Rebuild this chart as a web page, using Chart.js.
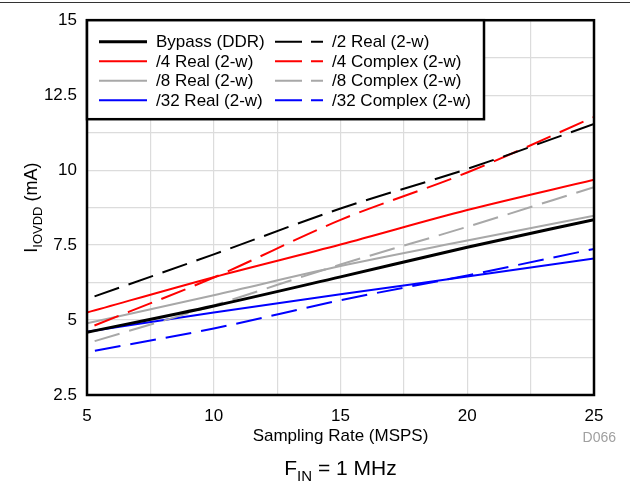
<!DOCTYPE html>
<html>
<head>
<meta charset="utf-8">
<script src="https://cdn.jsdelivr.net/npm/chart.js@4.4.1/dist/chart.umd.min.js"></script>
<style>
  html, body { margin: 0; padding: 0; background: #fff; }
  #wrap { position: relative; width: 630px; height: 482px; }
  canvas { display: block; }
</style>
</head>
<body>
<div id="wrap"><canvas id="c" width="630" height="482"></canvas></div>
<script>
// ---- Data ----
const samplingRate = [5, 10, 15, 20, 25];           // MSPS
const bypassDDR     = [4.59, 5.47, 6.44, 7.43, 8.35];
const div2Real      = [5.70, 7.19, 8.72, 10.04, 11.54];
const div4Real      = [5.25, 6.43, 7.52, 8.67, 9.68];
const div4Complex   = [4.72, 6.42, 8.34, 9.92, 11.77];
const div8Real      = [4.89, 5.83, 6.80, 7.65, 8.48];
const div8Complex   = [4.22, 5.49, 6.85, 8.11, 9.43];
const div32Real     = [4.61, 5.25, 5.86, 6.45, 7.05];
const div32Complex  = [3.93, 4.72, 5.66, 6.49, 7.37];
const seriesNames = ['Bypass (DDR)', '/2 Real (2-w)', '/4 Real (2-w)', '/4 Complex (2-w)',
                     '/8 Real (2-w)', '/8 Complex (2-w)', '/32 Real (2-w)', '/32 Complex (2-w)'];
const xTickLabels = ['5', '10', '15', '20', '25'];
const yTickLabels = ['2.5', '5', '7.5', '10', '12.5', '15'];
const xTitle = 'Sampling Rate (MSPS)';
const footNote = 'D066';

const FONT = '"Liberation Sans", Arial, sans-serif';
const RED = '#ff0000', BLUE = '#0000ff', GRAY = '#a8a8a8', BLACK = '#000000';
const DASH = [26, 10];

function pts(ys) { return samplingRate.map((x, i) => ({ x: x, y: ys[i] })); }
function ds(label, ys, color, dashed, width) {
  return {
    label: label, data: pts(ys), borderColor: color, backgroundColor: color,
    borderWidth: width, borderDash: dashed ? DASH : [], borderDashOffset: dashed ? 28 : 0,
    pointRadius: 0, tension: 0.3, fill: false, cubicInterpolationMode: 'monotone'
  };
}

const datasets = [
  ds(seriesNames[0], bypassDDR, BLACK, false, 3),
  ds(seriesNames[1], div2Real, BLACK, true, 2),
  ds(seriesNames[2], div4Real, RED, false, 2),
  ds(seriesNames[3], div4Complex, RED, true, 2),
  ds(seriesNames[4], div8Real, GRAY, false, 2),
  ds(seriesNames[5], div8Complex, GRAY, true, 2),
  ds(seriesNames[6], div32Real, BLUE, false, 2),
  ds(seriesNames[7], div32Complex, BLUE, true, 2)
];

function drawParts(ctx, parts, x, y, size, align) {
  let total = 0;
  const widths = parts.map(p => {
    ctx.font = (p.sub ? Math.round(size * 0.72) : size) + 'px ' + FONT;
    const w = ctx.measureText(p.t).width; total += w; return w;
  });
  let cx = align === 'center' ? x - total / 2 : x;
  parts.forEach((p, i) => {
    ctx.font = (p.sub ? Math.round(size * 0.72) : size) + 'px ' + FONT;
    ctx.textAlign = 'left';
    ctx.textBaseline = 'alphabetic';
    ctx.fillText(p.t, cx, y + (p.sub ? size * 0.28 : 0));
    cx += widths[i];
  });
}

const decor = {
  id: 'decor',
  beforeDraw(chart) {
    const ctx = chart.ctx;
    ctx.save();
    ctx.fillStyle = '#fff';
    ctx.fillRect(0, 0, chart.width, chart.height);
    ctx.strokeStyle = '#333';
    ctx.lineWidth = 1;
    ctx.beginPath(); ctx.moveTo(0, 2.5); ctx.lineTo(chart.width, 2.5); ctx.stroke();
    ctx.restore();
  },
  afterDraw(chart) {
    const ctx = chart.ctx;
    const a = chart.chartArea;
    ctx.save();
    ctx.strokeStyle = '#000';
    ctx.lineWidth = 2.5;
    ctx.strokeRect(a.left, a.top, a.right - a.left, a.bottom - a.top);

    // legend box
    const lx = a.left, ly = a.top, lw = 397, lh = 99;
    ctx.fillStyle = '#fff';
    ctx.fillRect(lx, ly, lw, lh);
    ctx.lineWidth = 2.5;
    ctx.strokeStyle = '#000';
    ctx.strokeRect(lx, ly, lw, lh);
    const colX = [lx + 12, lx + 188];
    const rowY = [ly + 21.5, ly + 41, ly + 60.5, ly + 80];
    chart.data.datasets.forEach((d, i) => {
      const col = i % 2, row = Math.floor(i / 2);
      const x0 = colX[col], y0 = rowY[row];
      ctx.beginPath();
      ctx.strokeStyle = d.borderColor;
      ctx.lineWidth = d.borderWidth;
      ctx.setLineDash(d.borderDash.length ? [27, 9] : []);
      ctx.moveTo(x0, y0); ctx.lineTo(x0 + 48, y0);
      ctx.stroke();
      ctx.setLineDash([]);
      ctx.fillStyle = '#000';
      ctx.font = '17px ' + FONT;
      ctx.textAlign = 'left';
      ctx.textBaseline = 'middle';
      ctx.fillText(d.label, x0 + 57, y0 + 1);
    });

    ctx.fillStyle = '#000';
    ctx.font = '17px ' + FONT;
    ctx.textAlign = 'center';
    ctx.textBaseline = 'middle';
    ctx.fillText(xTitle, (a.left + a.right) / 2, 436);
    ctx.fillStyle = '#a0a0a0';
    ctx.font = '14px ' + FONT;
    ctx.textAlign = 'right';
    ctx.fillText(footNote, 616, 438);
    ctx.fillStyle = '#000';
    drawParts(ctx, [{ t: 'F' }, { t: 'IN', sub: true }, { t: ' = 1 MHz' }], (a.left + a.right) / 2, 475, 21, 'center');
    ctx.save();
    ctx.translate(37, (a.top + a.bottom) / 2);
    ctx.rotate(-Math.PI / 2);
    drawParts(ctx, [{ t: 'I' }, { t: 'IOVDD', sub: true }, { t: ' (mA)' }], 0, 0, 18, 'center');
    ctx.restore();
    ctx.restore();
  }
};

function gridColor(ctx) { return '#dcdcdc'; }

new Chart(document.getElementById('c'), {
  type: 'line',
  data: { datasets: datasets },
  plugins: [decor],
  options: {
    responsive: false,
    animation: false,
    devicePixelRatio: 1,
    layout: { padding: { left: 0, top: 18, right: 36, bottom: 0 } },
    plugins: { legend: { display: false }, tooltip: { enabled: false } },
    scales: {
      x: {
        type: 'linear', min: 5, max: 25,
        afterFit(s) { s.height = 87; },
        border: { display: false },
        grid: { color: gridColor, lineWidth: 1.2, drawTicks: false },
        ticks: {
          stepSize: 2.5, padding: 11, color: '#000', maxRotation: 0, autoSkip: false,
          font: { family: FONT, size: 17 },
          callback(v) { const s = String(v); return xTickLabels.includes(s) ? s : ''; }
        }
      },
      y: {
        type: 'linear', min: 2.5, max: 15,
        afterFit(s) { s.width = 87; },
        border: { display: false },
        grid: { color: gridColor, lineWidth: 1.2, drawTicks: false },
        ticks: {
          stepSize: 1.25, padding: 10, color: '#000', autoSkip: false,
          font: { family: FONT, size: 17 },
          callback(v) { const s = String(v); return yTickLabels.includes(s) ? s : ''; }
        }
      }
    }
  }
});
</script>
</body>
</html>
